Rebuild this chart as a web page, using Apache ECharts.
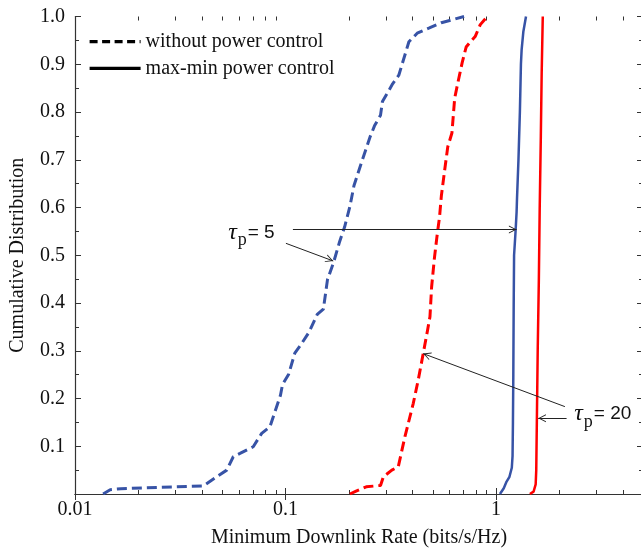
<!DOCTYPE html>
<html>
<head>
<meta charset="utf-8">
<script src="https://cdn.jsdelivr.net/npm/echarts@6/dist/echarts.min.js"></script>
<style>
  html, body { margin: 0; padding: 0; background: #fff; }
  #chart { width: 641px; height: 549px; }
</style>
</head>
<body>
<div id="chart"></div>
<script>
// tau_p = 5, without power control (blue dashed)
var blueDashX = [0.0136, 0.0147, 0.0165, 0.025, 0.0407, 0.0471, 0.0526, 0.0565, 0.0608, 0.0703, 0.0771, 0.0844, 0.0947, 0.0968, 0.1036, 0.1108, 0.1185, 0.1295, 0.1416, 0.1514, 0.1584, 0.1693, 0.181, 0.191, 0.2024, 0.2117, 0.2313, 0.253, 0.2649, 0.2829, 0.289, 0.309, 0.323, 0.3456, 0.386, 0.4227, 0.483, 0.5505, 0.63, 0.706];
var blueDashY = [0, 0.009, 0.011, 0.014, 0.017, 0.036, 0.05, 0.078, 0.085, 0.099, 0.127, 0.141, 0.207, 0.229, 0.251, 0.295, 0.313, 0.339, 0.376, 0.387, 0.449, 0.485, 0.529, 0.559, 0.602, 0.646, 0.698, 0.749, 0.771, 0.793, 0.822, 0.844, 0.859, 0.877, 0.947, 0.965, 0.976, 0.987, 0.994, 1.0];
// tau_p = 20, without power control (red dashed)
var redDashX = [0.2024, 0.2166, 0.242, 0.283, 0.292, 0.3202, 0.3436, 0.3696, 0.405, 0.4276, 0.4514, 0.472, 0.486, 0.495, 0.51, 0.524, 0.54, 0.5505, 0.57, 0.5905, 0.618, 0.637, 0.655, 0.691, 0.722, 0.756, 0.797, 0.843, 0.91];
var redDashY = [0, 0.006, 0.015, 0.018, 0.036, 0.05, 0.057, 0.12, 0.19, 0.239, 0.294, 0.34, 0.371, 0.434, 0.493, 0.537, 0.581, 0.624, 0.676, 0.727, 0.756, 0.829, 0.855, 0.903, 0.936, 0.947, 0.958, 0.983, 1.0];
// tau_p = 5, max-min power control (blue solid)
var blueSolidX = [1.045, 1.09, 1.124, 1.16, 1.19, 1.2, 1.205, 1.21, 1.215, 1.22, 1.24, 1.254, 1.26, 1.28, 1.30, 1.315, 1.325, 1.35, 1.39];
var blueSolidY = [0, 0.012, 0.026, 0.036, 0.055, 0.08, 0.15, 0.25, 0.40, 0.50, 0.55, 0.59, 0.62, 0.70, 0.80, 0.90, 0.93, 0.968, 1.0];
// tau_p = 20, max-min power control (red solid)
var redSolidX = [1.45, 1.51, 1.545, 1.555, 1.565, 1.58, 1.60, 1.615, 1.635, 1.65, 1.67];
var redSolidY = [0, 0.005, 0.02, 0.05, 0.15, 0.30, 0.45, 0.6, 0.75, 0.88, 1.0];

var minorTicksX = [0.02, 0.03, 0.04, 0.05, 0.06, 0.07, 0.08, 0.09, 0.2, 0.3, 0.4, 0.5, 0.6, 0.7, 0.8, 0.9, 2, 3, 4];
var legendNames = ['without power control', 'max-min power control'];

// annotation arrows [from, to] in data coordinates
var arrows = [
    [[0.1085, 0.554], [1.254, 0.554]],
    [[0.1005, 0.525], [0.1687, 0.488]],
    [[2.127, 0.183], [0.4514, 0.294]],
    [[2.167, 0.1585], [1.589, 0.1585]]
];
var tauLabels = [
    { text: '5', coord: [0.0689, 0.548] },
    { text: '20', coord: [3.22, 0.168] }
];

var BLUE = '#3753a6';
var RED = '#ff0000';
var SERIF = '"Liberation Serif", "Times New Roman", serif';

function zip(xs, ys) {
    return xs.map(function (x, i) { return [x, ys[i]]; });
}

// open arrow head, tip at the centre of the path box
var chevron = 'path://M5,0.4 L5.01,0.4 Z M5,10 L10,19.6 L8.8,19.6 L5,12.3 L1.2,19.6 L0,19.6 Z';

var chart = echarts.init(document.getElementById('chart'));

var axisLine = { show: true, lineStyle: { color: '#333', width: 1.2 } };
var tickStyle = { color: '#333', width: 1 };

chart.setOption({
    animation: false,
    backgroundColor: '#fff',
    grid: { left: 75, top: 16.5, width: 568, height: 477.5, outerBoundsMode: 'none' },
    legend: {
        data: legendNames,
        orient: 'vertical',
        left: 88,
        top: 31.7,
        padding: 0,
        itemWidth: 51,
        itemHeight: 14,
        itemGap: 6.6,
        itemStyle: { opacity: 0 },
        lineStyle: { opacity: 1, width: 3.2 },
        textStyle: { fontFamily: SERIF, fontSize: 20, color: '#111', lineHeight: 20 }
    },
    xAxis: [
        {
            type: 'log', logBase: 10, min: 0.01, max: 5, position: 'bottom',
            name: 'Minimum Downlink Rate (bits/s/Hz)',
            nameLocation: 'middle', nameGap: 34,
            nameTextStyle: { fontFamily: SERIF, fontSize: 20, color: '#111' },
            axisLine: axisLine,
            axisTick: { show: true, inside: true, length: 6, lineStyle: tickStyle },
            axisLabel: { fontFamily: SERIF, fontSize: 20, color: '#111', margin: 6, showMaxLabel: false },
            splitLine: { show: false }
        },
        {
            type: 'log', logBase: 10, min: 0.01, max: 5, position: 'top',
            axisLine: axisLine,
            axisTick: { show: true, inside: true, length: 6, lineStyle: tickStyle },
            axisLabel: { show: false },
            splitLine: { show: false }
        }
    ],
    yAxis: [
        {
            type: 'value', min: 0, max: 1, interval: 0.1, position: 'left',
            name: 'Cumulative Distribution',
            nameLocation: 'middle', nameGap: 47,
            nameTextStyle: { fontFamily: SERIF, fontSize: 20, color: '#111' },
            axisLine: axisLine,
            axisTick: { show: true, inside: true, length: 6, lineStyle: tickStyle },
            minorTick: { show: true, splitNumber: 2, length: 4, lineStyle: tickStyle },
            axisLabel: {
                fontFamily: SERIF, fontSize: 20, color: '#111', margin: 10,
                formatter: function (v) { return v === 0 ? '' : v.toFixed(1); }
            },
            splitLine: { show: false }
        },
        {
            type: 'value', min: 0, max: 1, interval: 0.1, position: 'right',
            axisLine: axisLine,
            axisTick: { show: true, inside: true, length: 6, lineStyle: tickStyle },
            minorTick: { show: true, splitNumber: 2, length: 4, lineStyle: tickStyle },
            axisLabel: { show: false },
            splitLine: { show: false }
        }
    ],
    series: [
        {
            name: 'minor ticks', type: 'custom', silent: true,
            data: minorTicksX.map(function (v) { return [v, 0]; }),
            renderItem: function (params, api) {
                var v = api.value(0);
                var b = api.coord([v, 0]);
                var t = api.coord([v, 1]);
                var x = Math.round(b[0]) + 0.5;
                return {
                    type: 'group',
                    children: [
                        { type: 'line', shape: { x1: x, y1: b[1], x2: x, y2: b[1] - 4 }, style: { stroke: '#333', lineWidth: 1 } },
                        { type: 'line', shape: { x1: x, y1: t[1], x2: x, y2: t[1] + 4 }, style: { stroke: '#333', lineWidth: 1 } }
                    ]
                };
            }
        },
        {
            name: 'blue dashed', type: 'line', data: zip(blueDashX, blueDashY),
            symbol: 'none', lineStyle: { color: BLUE, width: 3, type: [10, 5] }
        },
        {
            name: 'red dashed', type: 'line', data: zip(redDashX, redDashY),
            symbol: 'none', lineStyle: { color: RED, width: 3, type: [10, 5] }
        },
        {
            name: 'blue solid', type: 'line', data: zip(blueSolidX, blueSolidY),
            symbol: 'none', lineStyle: { color: BLUE, width: 2.5 }
        },
        {
            name: 'red solid', type: 'line', data: zip(redSolidX, redSolidY),
            symbol: 'none', lineStyle: { color: RED, width: 2.5 },
            markLine: {
                silent: true,
                symbol: ['none', chevron],
                symbolSize: [8, 15.4],
                label: { show: false },
                lineStyle: { color: '#222', width: 1, type: 'solid' },
                emphasis: { disabled: true },
                data: arrows.map(function (a) {
                    return [{ coord: a[0] }, { coord: a[1] }];
                })
            },
            markPoint: {
                silent: true,
                symbol: 'circle',
                symbolSize: 1,
                itemStyle: { color: 'rgba(0,0,0,0)' },
                label: {
                    show: true, position: 'inside',
                    rich: {
                        t: { fontFamily: SERIF, fontStyle: 'italic', fontSize: 24, color: '#111' },
                        p: { fontFamily: SERIF, fontSize: 18, color: '#111', padding: [16, 0, 0, 1] },
                        e: { fontFamily: '"Liberation Sans", Arial, sans-serif', fontSize: 19, color: '#111', padding: [0, 0, 0, 1] }
                    }
                },
                data: tauLabels.map(function (l) {
                    return {
                        coord: l.coord,
                        label: { formatter: '{t|τ}{p|p}{e|= ' + l.text + '}' }
                    };
                })
            }
        },
        {
            name: legendNames[0], type: 'line', data: [], symbol: 'none',
            itemStyle: { color: '#000' },
            lineStyle: { color: '#000', width: 3, type: [8, 4.5] }
        },
        {
            name: legendNames[1], type: 'line', data: [], symbol: 'none',
            itemStyle: { color: '#000' },
            lineStyle: { color: '#000', width: 3 }
        }
    ]
});
</script>
</body>
</html>
